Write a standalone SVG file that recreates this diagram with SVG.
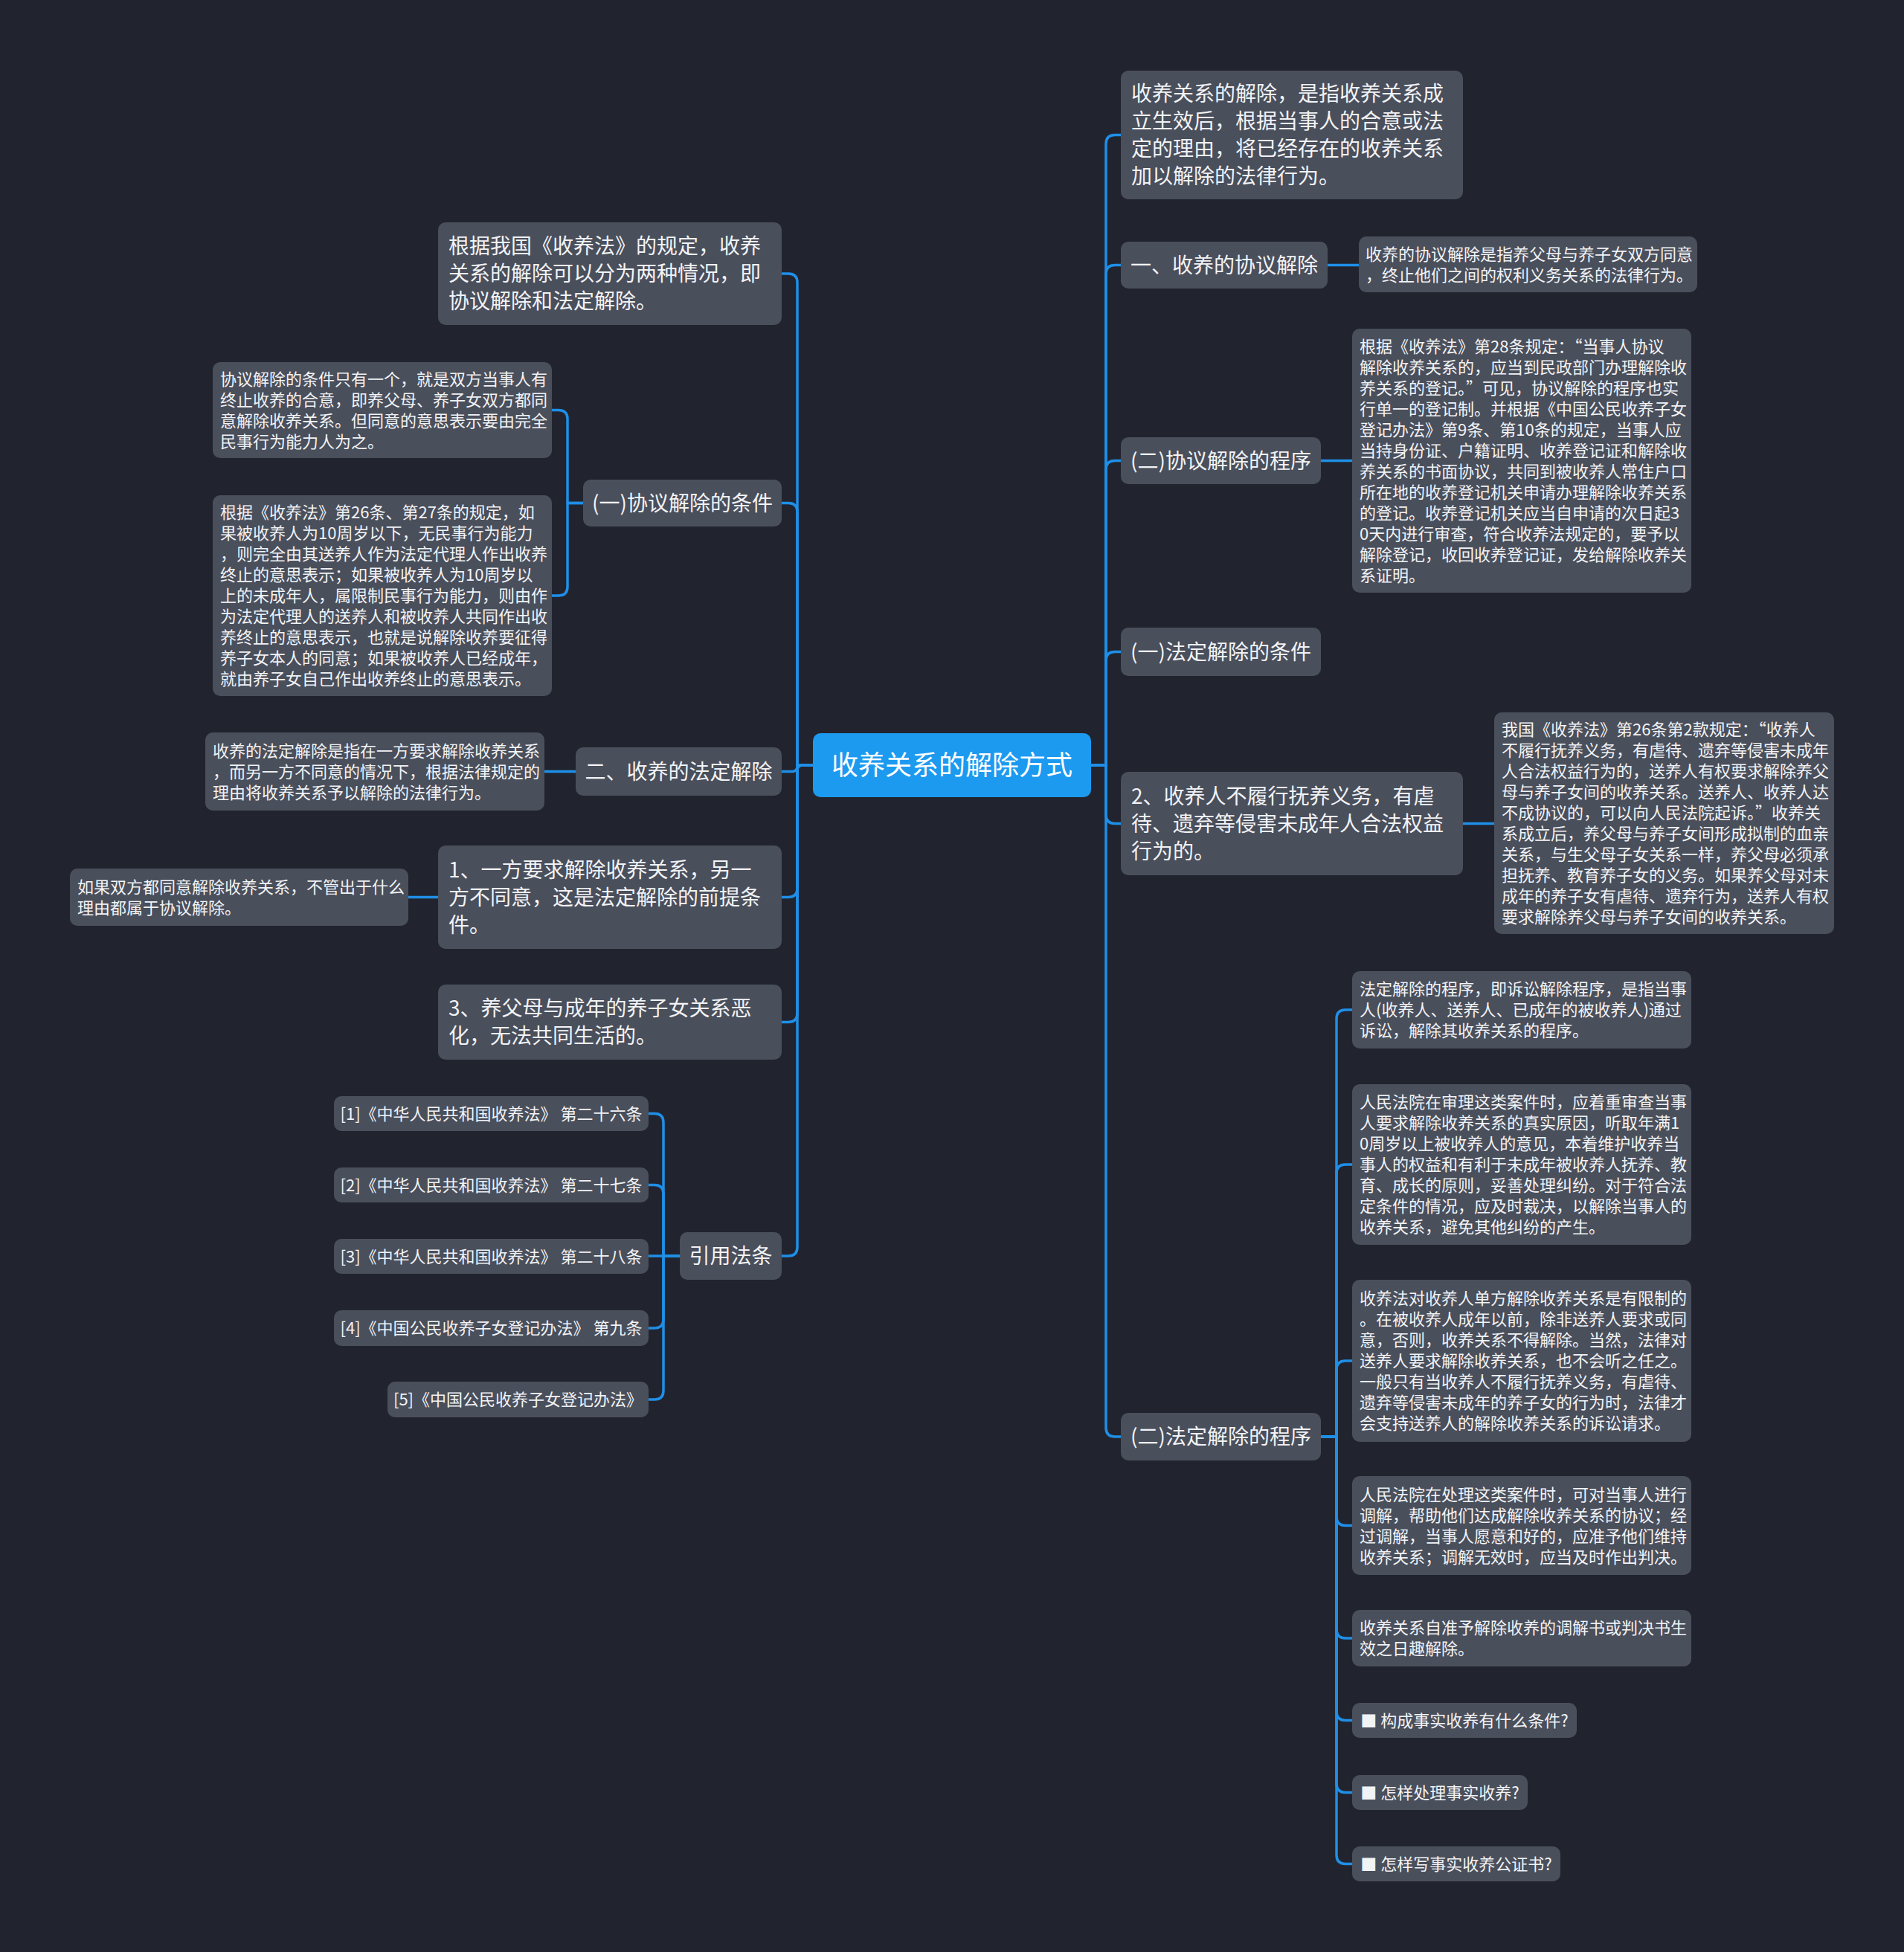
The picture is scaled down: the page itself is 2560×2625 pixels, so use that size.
<svg xmlns="http://www.w3.org/2000/svg" width="2560" height="2625" viewBox="0 0 2560 2625">
<style>
.bg{fill:#21242e}
.box{fill:#4a4f5c}
.root{fill:#1c9af0}
text{font-family:"Noto Sans CJK SC","Noto Sans",sans-serif;fill:#f2f3f5}
.f28{font-size:28px}
.f22{font-size:22px}
.f36{font-size:36px;fill:#ffffff}
.c{text-anchor:middle}
.ln{fill:none;stroke:#1f8fe8;stroke-width:3.5;stroke-linecap:round;stroke-linejoin:round}
</style>
<rect class="bg" x="0" y="0" width="2560" height="2625"/>

<g id="connectors">
<path class="ln" d="M1467,1029 H1487 V193.5 Q1487,181.5 1499,181.5 H1507"/>
<path class="ln" d="M1467,1029 H1487 V368.5 Q1487,356.5 1499,356.5 H1507"/>
<path class="ln" d="M1467,1029 H1487 V631.5 Q1487,619.5 1499,619.5 H1507"/>
<path class="ln" d="M1467,1029 H1487 V888.5 Q1487,876.5 1499,876.5 H1507"/>
<path class="ln" d="M1467,1029 H1487 V1095.5 Q1487,1107.5 1499,1107.5 H1507"/>
<path class="ln" d="M1467,1029 H1487 V1920 Q1487,1932 1499,1932 H1507"/>
<path class="ln" d="M1785,356.5 H1827"/>
<path class="ln" d="M1776,619.5 H1818"/>
<path class="ln" d="M1967,1107.5 H2009"/>
<path class="ln" d="M1776,1932 H1797 V1370 Q1797,1358 1809,1358 H1818"/>
<path class="ln" d="M1776,1932 H1797 V1578 Q1797,1566 1809,1566 H1818"/>
<path class="ln" d="M1776,1932 H1797 V1842 Q1797,1830 1809,1830 H1818"/>
<path class="ln" d="M1776,1932 H1797 V2039.5 Q1797,2051.5 1809,2051.5 H1818"/>
<path class="ln" d="M1776,1932 H1797 V2191 Q1797,2203 1809,2203 H1818"/>
<path class="ln" d="M1776,1932 H1797 V2301.5 Q1797,2313.5 1809,2313.5 H1818"/>
<path class="ln" d="M1776,1932 H1797 V2398.5 Q1797,2410.5 1809,2410.5 H1818"/>
<path class="ln" d="M1776,1932 H1797 V2494.5 Q1797,2506.5 1809,2506.5 H1818"/>
<path class="ln" d="M1093,1029 H1072 V380 Q1072,368 1060,368 H1051"/>
<path class="ln" d="M1093,1029 H1072 V688.5 Q1072,676.5 1060,676.5 H1051"/>
<path class="ln" d="M1093,1029 H1078 C1072,1029 1072,1037.5 1066,1037.5 H1051"/>
<path class="ln" d="M1093,1029 H1072 V1194.5 Q1072,1206.5 1060,1206.5 H1051"/>
<path class="ln" d="M1093,1029 H1072 V1362.5 Q1072,1374.5 1060,1374.5 H1051"/>
<path class="ln" d="M1093,1029 H1072 V1677 Q1072,1689 1060,1689 H1051"/>
<path class="ln" d="M784,676.5 H763 V563.5 Q763,551.5 751,551.5 H742"/>
<path class="ln" d="M784,676.5 H763 V789 Q763,801 751,801 H742"/>
<path class="ln" d="M774,1037.5 H732"/>
<path class="ln" d="M589,1206.5 H549"/>
<path class="ln" d="M914,1689 H892 V1509.5 Q892,1497.5 880,1497.5 H872"/>
<path class="ln" d="M914,1689 H892 V1605.5 Q892,1593.5 880,1593.5 H872"/>
<path class="ln" d="M914,1689 H872"/>
<path class="ln" d="M914,1689 H892 V1774 Q892,1786 880,1786 H872"/>
<path class="ln" d="M914,1689 H892 V1870 Q892,1882 880,1882 H872"/>
</g>

<g id="root">
<rect class="root" x="1093" y="986" width="374" height="86" rx="10"/>
<text class="f36 c" x="1280" y="1042">收养关系的解除方式</text>
</g>

<g id="r1">
<rect class="box" x="1507" y="95" width="460" height="173" rx="10"/>
<text class="f28" x="1521" y="136"><tspan x="1521">收养关系的解除，是指收养关系成</tspan><tspan x="1521" dy="37">立生效后，根据当事人的合意或法</tspan><tspan x="1521" dy="37">定的理由，将已经存在的收养关系</tspan><tspan x="1521" dy="37">加以解除的法律行为。</tspan></text>
</g>

<g id="r2">
<rect class="box" x="1507" y="325" width="278" height="63" rx="10"/>
<text class="f28 c" x="1646" y="366.5">一、收养的协议解除</text>
</g>
<g id="r2c">
<rect class="box" x="1827" y="318" width="455" height="75" rx="10"/>
<text class="f22" x="1836" y="349.5"><tspan x="1836">收养的协议解除是指养父母与养子女双方同意</tspan><tspan x="1836" dy="28">，终止他们之间的权利义务关系的法律行为。</tspan></text>
</g>

<g id="r3">
<rect class="box" x="1507" y="588" width="269" height="63" rx="10"/>
<text class="f28 c" x="1641.5" y="629.5">(二)协议解除的程序</text>
</g>
<g id="r3c">
<rect class="box" x="1818" y="442" width="456" height="355" rx="10"/>
<text class="f22" x="1828" y="473.5"><tspan x="1828">根据《收养法》第28条规定：“当事人协议</tspan><tspan x="1828" dy="28">解除收养关系的，应当到民政部门办理解除收</tspan><tspan x="1828" dy="28">养关系的登记。”可见，协议解除的程序也实</tspan><tspan x="1828" dy="28">行单一的登记制。并根据《中国公民收养子女</tspan><tspan x="1828" dy="28">登记办法》第9条、第10条的规定，当事人应</tspan><tspan x="1828" dy="28">当持身份证、户籍证明、收养登记证和解除收</tspan><tspan x="1828" dy="28">养关系的书面协议，共同到被收养人常住户口</tspan><tspan x="1828" dy="28">所在地的收养登记机关申请办理解除收养关系</tspan><tspan x="1828" dy="28">的登记。收养登记机关应当自申请的次日起3</tspan><tspan x="1828" dy="28">0天内进行审查，符合收养法规定的，要予以</tspan><tspan x="1828" dy="28">解除登记，收回收养登记证，发给解除收养关</tspan><tspan x="1828" dy="28">系证明。</tspan></text>
</g>

<g id="r4">
<rect class="box" x="1507" y="844" width="269" height="65" rx="10"/>
<text class="f28 c" x="1641.5" y="886.5">(一)法定解除的条件</text>
</g>

<g id="r5">
<rect class="box" x="1507" y="1038" width="460" height="139" rx="10"/>
<text class="f28" x="1521" y="1080.5"><tspan x="1521">2、收养人不履行抚养义务，有虐</tspan><tspan x="1521" dy="37">待、遗弃等侵害未成年人合法权益</tspan><tspan x="1521" dy="37">行为的。</tspan></text>
</g>
<g id="r5c">
<rect class="box" x="2009" y="958" width="457" height="298" rx="10"/>
<text class="f22" x="2019" y="989"><tspan x="2019">我国《收养法》第26条第2款规定：“收养人</tspan><tspan x="2019" dy="28">不履行抚养义务，有虐待、遗弃等侵害未成年</tspan><tspan x="2019" dy="28">人合法权益行为的，送养人有权要求解除养父</tspan><tspan x="2019" dy="28">母与养子女间的收养关系。送养人、收养人达</tspan><tspan x="2019" dy="28">不成协议的，可以向人民法院起诉。”收养关</tspan><tspan x="2019" dy="28">系成立后，养父母与养子女间形成拟制的血亲</tspan><tspan x="2019" dy="28">关系，与生父母子女关系一样，养父母必须承</tspan><tspan x="2019" dy="28">担抚养、教育养子女的义务。如果养父母对未</tspan><tspan x="2019" dy="28">成年的养子女有虐待、遗弃行为，送养人有权</tspan><tspan x="2019" dy="28">要求解除养父母与养子女间的收养关系。</tspan></text>
</g>

<g id="r6">
<rect class="box" x="1507" y="1900" width="269" height="64" rx="10"/>
<text class="f28 c" x="1641.5" y="1942">(二)法定解除的程序</text>
</g>
<g id="r6a">
<rect class="box" x="1818" y="1306" width="456" height="104" rx="10"/>
<text class="f22" x="1828" y="1338"><tspan x="1828">法定解除的程序，即诉讼解除程序，是指当事</tspan><tspan x="1828" dy="28">人(收养人、送养人、已成年的被收养人)通过</tspan><tspan x="1828" dy="28">诉讼，解除其收养关系的程序。</tspan></text>
</g>
<g id="r6b">
<rect class="box" x="1818" y="1458" width="456" height="216" rx="10"/>
<text class="f22" x="1828" y="1490"><tspan x="1828">人民法院在审理这类案件时，应着重审查当事</tspan><tspan x="1828" dy="28">人要求解除收养关系的真实原因，听取年满1</tspan><tspan x="1828" dy="28">0周岁以上被收养人的意见，本着维护收养当</tspan><tspan x="1828" dy="28">事人的权益和有利于未成年被收养人抚养、教</tspan><tspan x="1828" dy="28">育、成长的原则，妥善处理纠纷。对于符合法</tspan><tspan x="1828" dy="28">定条件的情况，应及时裁决，以解除当事人的</tspan><tspan x="1828" dy="28">收养关系，避免其他纠纷的产生。</tspan></text>
</g>
<g id="r6c">
<rect class="box" x="1818" y="1721" width="456" height="218" rx="10"/>
<text class="f22" x="1828" y="1754"><tspan x="1828">收养法对收养人单方解除收养关系是有限制的</tspan><tspan x="1828" dy="28">。在被收养人成年以前，除非送养人要求或同</tspan><tspan x="1828" dy="28">意，否则，收养关系不得解除。当然，法律对</tspan><tspan x="1828" dy="28">送养人要求解除收养关系，也不会听之任之。</tspan><tspan x="1828" dy="28">一般只有当收养人不履行抚养义务，有虐待、</tspan><tspan x="1828" dy="28">遗弃等侵害未成年的养子女的行为时，法律才</tspan><tspan x="1828" dy="28">会支持送养人的解除收养关系的诉讼请求。</tspan></text>
</g>
<g id="r6d">
<rect class="box" x="1818" y="1985" width="456" height="133" rx="10"/>
<text class="f22" x="1828" y="2017.5"><tspan x="1828">人民法院在处理这类案件时，可对当事人进行</tspan><tspan x="1828" dy="28">调解，帮助他们达成解除收养关系的协议；经</tspan><tspan x="1828" dy="28">过调解，当事人愿意和好的，应准予他们维持</tspan><tspan x="1828" dy="28">收养关系；调解无效时，应当及时作出判决。</tspan></text>
</g>
<g id="r6e">
<rect class="box" x="1818" y="2165" width="456" height="76" rx="10"/>
<text class="f22" x="1828" y="2197"><tspan x="1828">收养关系自准予解除收养的调解书或判决书生</tspan><tspan x="1828" dy="28">效之日趣解除。</tspan></text>
</g>
<g id="r6f">
<rect class="box" x="1818" y="2290" width="302" height="47" rx="10"/>
<text class="f22 c" x="1969" y="2321.5">■ 构成事实收养有什么条件?</text>
</g>
<g id="r6g">
<rect class="box" x="1818" y="2387" width="236" height="47" rx="10"/>
<text class="f22 c" x="1936" y="2418.5">■ 怎样处理事实收养?</text>
</g>
<g id="r6h">
<rect class="box" x="1818" y="2483" width="280" height="47" rx="10"/>
<text class="f22 c" x="1958" y="2514.5">■ 怎样写事实收养公证书?</text>
</g>

<g id="l1">
<rect class="box" x="589" y="299" width="462" height="138" rx="10"/>
<text class="f28" x="603" y="341"><tspan x="603">根据我国《收养法》的规定，收养</tspan><tspan x="603" dy="37">关系的解除可以分为两种情况，即</tspan><tspan x="603" dy="37">协议解除和法定解除。</tspan></text>
</g>

<g id="l2">
<rect class="box" x="784" y="645" width="267" height="63" rx="10"/>
<text class="f28 c" x="917.5" y="686.5">(一)协议解除的条件</text>
</g>
<g id="l2a">
<rect class="box" x="286" y="487" width="456" height="129" rx="10"/>
<text class="f22" x="296" y="517.5"><tspan x="296">协议解除的条件只有一个，就是双方当事人有</tspan><tspan x="296" dy="28">终止收养的合意，即养父母、养子女双方都同</tspan><tspan x="296" dy="28">意解除收养关系。但同意的意思表示要由完全</tspan><tspan x="296" dy="28">民事行为能力人为之。</tspan></text>
</g>
<g id="l2b">
<rect class="box" x="286" y="666" width="456" height="270" rx="10"/>
<text class="f22" x="296" y="697"><tspan x="296">根据《收养法》第26条、第27条的规定，如</tspan><tspan x="296" dy="28">果被收养人为10周岁以下，无民事行为能力</tspan><tspan x="296" dy="28">，则完全由其送养人作为法定代理人作出收养</tspan><tspan x="296" dy="28">终止的意思表示；如果被收养人为10周岁以</tspan><tspan x="296" dy="28">上的未成年人，属限制民事行为能力，则由作</tspan><tspan x="296" dy="28">为法定代理人的送养人和被收养人共同作出收</tspan><tspan x="296" dy="28">养终止的意思表示，也就是说解除收养要征得</tspan><tspan x="296" dy="28">养子女本人的同意；如果被收养人已经成年，</tspan><tspan x="296" dy="28">就由养子女自己作出收养终止的意思表示。</tspan></text>
</g>

<g id="l3">
<rect class="box" x="774" y="1005" width="277" height="65" rx="10"/>
<text class="f28 c" x="912.5" y="1047.5">二、收养的法定解除</text>
</g>
<g id="l3c">
<rect class="box" x="276" y="985" width="456" height="105" rx="10"/>
<text class="f22" x="286" y="1017.5"><tspan x="286">收养的法定解除是指在一方要求解除收养关系</tspan><tspan x="286" dy="28">，而另一方不同意的情况下，根据法律规定的</tspan><tspan x="286" dy="28">理由将收养关系予以解除的法律行为。</tspan></text>
</g>

<g id="l4">
<rect class="box" x="589" y="1137" width="462" height="139" rx="10"/>
<text class="f28" x="603" y="1179.5"><tspan x="603">1、一方要求解除收养关系，另一</tspan><tspan x="603" dy="37">方不同意，这是法定解除的前提条</tspan><tspan x="603" dy="37">件。</tspan></text>
</g>
<g id="l4c">
<rect class="box" x="94" y="1168" width="455" height="77" rx="10"/>
<text class="f22" x="104" y="1200.5"><tspan x="104">如果双方都同意解除收养关系，不管出于什么</tspan><tspan x="104" dy="28">理由都属于协议解除。</tspan></text>
</g>

<g id="l5">
<rect class="box" x="589" y="1324" width="462" height="101" rx="10"/>
<text class="f28" x="603" y="1366"><tspan x="603">3、养父母与成年的养子女关系恶</tspan><tspan x="603" dy="37">化，无法共同生活的。</tspan></text>
</g>

<g id="l6">
<rect class="box" x="914" y="1657" width="137" height="64" rx="10"/>
<text class="f28 c" x="982.5" y="1699">引用法条</text>
</g>
<g id="l6a">
<rect class="box" x="449" y="1474" width="423" height="47" rx="10"/>
<text class="f22 c" x="660.5" y="1505.5">[1]《中华人民共和国收养法》 第二十六条</text>
</g>
<g id="l6b">
<rect class="box" x="449" y="1570" width="423" height="47" rx="10"/>
<text class="f22 c" x="660.5" y="1601.5">[2]《中华人民共和国收养法》 第二十七条</text>
</g>
<g id="l6c">
<rect class="box" x="449" y="1666" width="423" height="47" rx="10"/>
<text class="f22 c" x="660.5" y="1697.5">[3]《中华人民共和国收养法》 第二十八条</text>
</g>
<g id="l6d">
<rect class="box" x="449" y="1762" width="423" height="48" rx="10"/>
<text class="f22 c" x="660.5" y="1794">[4]《中国公民收养子女登记办法》 第九条</text>
</g>
<g id="l6e">
<rect class="box" x="521" y="1858" width="351" height="48" rx="10"/>
<text class="f22 c" x="696.5" y="1890">[5]《中国公民收养子女登记办法》</text>
</g>
</svg>
